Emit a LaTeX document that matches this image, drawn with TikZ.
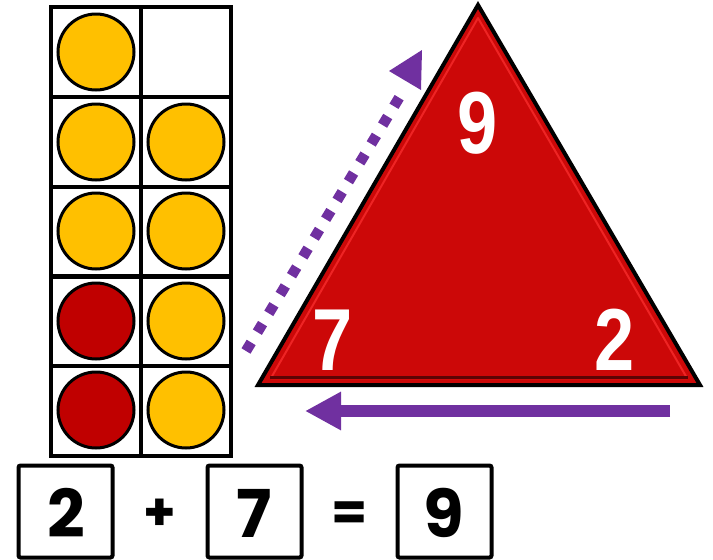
\documentclass[tikz,border=0pt]{standalone}
\usepackage{fontspec}
\newfontfamily\trifont[FakeStretch=0.82]{Liberation Sans}
\newfontfamily\eqfont{Poppins}
\usetikzlibrary{arrows.meta}
\definecolor{dotyellow}{HTML}{FFC000}
\definecolor{dotred}{HTML}{C00000}
\definecolor{trired}{HTML}{CC0808}
\definecolor{trilight}{HTML}{EE2424}
\definecolor{arrowpurple}{HTML}{7030A0}
\tikzset{
  cell/.style={draw=black, line width=4pt, minimum width=90pt, minimum height=90pt, inner sep=0pt},
  counter/.style={circle, draw=black, line width=3pt, minimum size=76pt, inner sep=0pt},
  yel/.style={counter, fill=dotyellow},
  rdc/.style={counter, fill=dotred},
  tridigit/.style={text=white, font=\trifont\bfseries\fontsize{88}{88}\selectfont, inner sep=0pt},
  eqbox/.style={draw=black, line width=4pt, rounded corners=2pt, minimum width=94pt, minimum height=92pt, inner sep=0pt},
  eqtext/.style={font=\eqfont\bfseries\fontsize{66}{66}\selectfont, inner sep=0pt},
  eqsym/.style={font=\eqfont\bfseries\fontsize{52}{52}\selectfont, inner sep=0pt}
}
\begin{document}
\begin{tikzpicture}[x=1pt,y=-1pt]
\useasboundingbox (0,0) rectangle (713,560);
% ten frame
\foreach \r/\yy in {1/52,2/142,3/231.5,4/321,5/411}{
  \node[cell] (cl\r) at (96,\yy) {};
  \node[cell] (cr\r) at (186,\yy) {};
}
\node[yel] (c1) at (96,52) {};
\node[yel] (c2) at (96,142) {};
\node[yel] (c3) at (186,142) {};
\node[yel] (c4) at (96,231) {};
\node[yel] (c5) at (186,231) {};
\node[rdc] (c6) at (96,321) {};
\node[yel] (c7) at (186,321) {};
\node[rdc] (c8) at (96,410) {};
\node[yel] (c9) at (186,410) {};
% triangle
\coordinate (tA) at (478,5);
\coordinate (tB) at (258,385);
\coordinate (tC) at (700,385);
\fill[trired] (tA) -- (tB) -- (tC) -- cycle;
\draw[trilight, line width=2pt, line join=round] (478,18) -- (271,378) -- (687,378) -- cycle;
\draw[black!55!trired, line width=3pt] (270,377.5) -- (688,377.5);
\draw[black, line width=4pt, line join=miter] (tA) -- (tB) -- (tC) -- cycle;
\node[tridigit] (n9) at (478,123) {9};
\node[tridigit] (n7) at (333,340) {7};
\node[tridigit] (n2) at (615,340) {2};
% dotted arrow
\coordinate (ds) at (246,351);
\coordinate (de) at (405,88);
\coordinate (dt) at (422,50);
\draw[arrowpurple, line width=10.5pt, dash pattern=on 10pt off 12pt] (ds) -- (de);
\fill[arrowpurple] (dt) -- (389,71) -- (421,90) -- cycle;
% solid arrow
\coordinate (ss) at (670,411);
\coordinate (se) at (305,411);
\draw[arrowpurple, line width=12pt, -{Triangle[length=36pt,width=36pt]}] (ss) -- (se);
% equation
\node[eqbox] (b1) at (65.5,511.5) {};
\node[eqtext] (e1) at (66,513) {2};
\node[eqsym] (plus) at (160,515) {+};
\node[eqbox] (b2) at (254.5,511.5) {};
\node[eqtext] (e2) at (254,513) {7};
\node[eqsym] (eq) at (350,516) {=};
\node[eqbox] (b3) at (444.5,511.5) {};
\node[eqtext] (e3) at (444,513) {9};
\end{tikzpicture}
\end{document}
